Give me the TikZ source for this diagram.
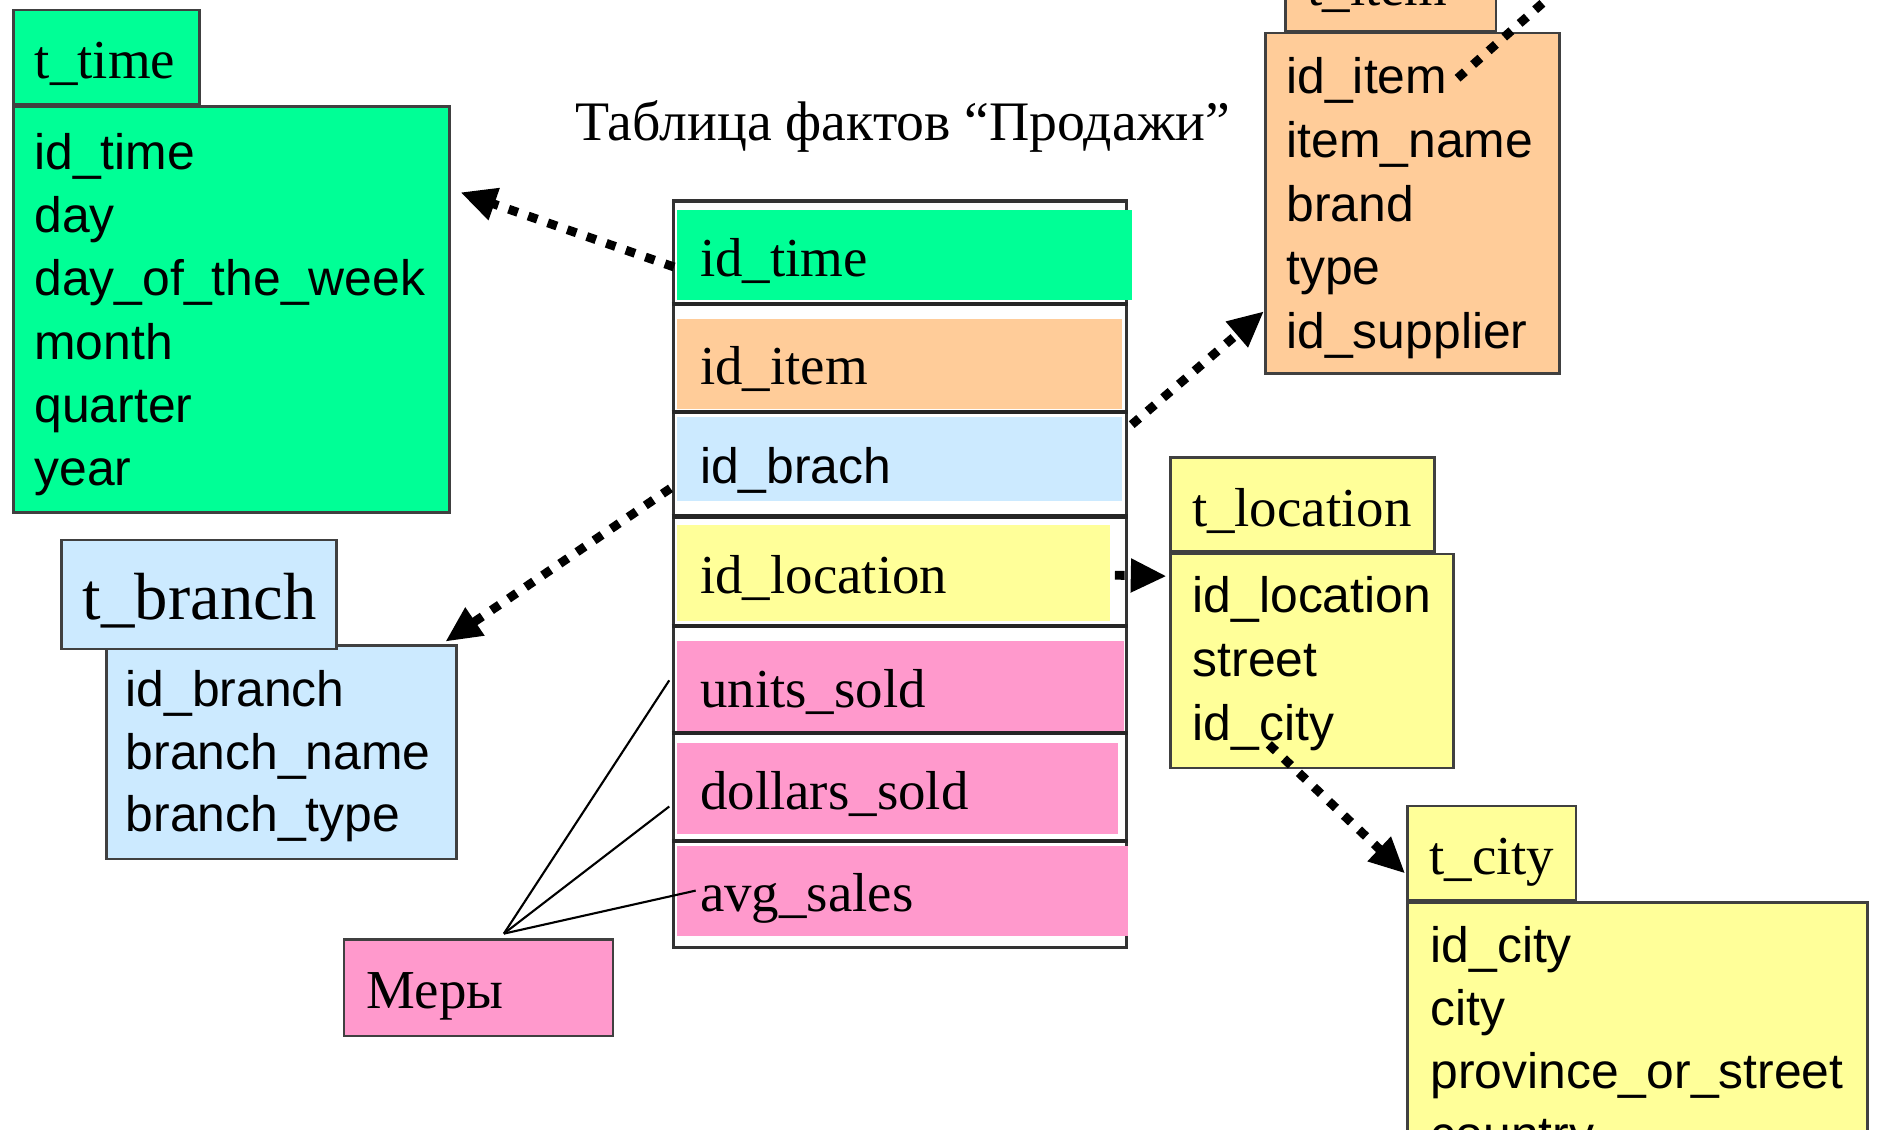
\documentclass[tikz,border=0pt]{standalone}
\usepackage{fontspec}
\setmainfont{Liberation Serif}
\setsansfont{Liberation Sans}
\usetikzlibrary{arrows.meta,calc}

\definecolor{timeclr}{RGB}{0,255,150}
\definecolor{itemclr}{RGB}{255,204,153}
\definecolor{branchclr}{RGB}{204,234,255}
\definecolor{locclr}{RGB}{255,255,153}
\definecolor{measclr}{RGB}{255,153,204}

\tikzset{
  box/.style={draw=black!75, line width=0.6pt, inner sep=0pt},
  head/.style={box, anchor=south west, inner xsep=0.18cm, align=left,
    text height=0.57cm, text depth=0.21cm, font=\fontsize{13}{15}\selectfont},
  body/.style={box, anchor=north west},
  fld/.style={anchor=base west, inner sep=0pt, font=\sffamily\fontsize{11.8}{14}\selectfont},
  row/.style={anchor=north west, inner ysep=0pt, inner xsep=0.19cm, align=left,
    text height=0.55cm, text depth=0.2cm, font=\fontsize{13}{15}\selectfont},
  sep/.style={line width=1.1pt, black!85},
  fkline/.style={line width=2.1pt, dash pattern=on 2.3pt off 2.6pt},
  fk/.style={fkline, -{Triangle[length=8.5pt,width=7.5pt]}},
  meas/.style={line width=0.5pt}
}

\begin{document}
\begin{tikzpicture}
\useasboundingbox (0,0) rectangle (15.68,-9.40);
\clip (0,0) rectangle (15.68,-9.40);

% t_time
\node[body, fill=timeclr, minimum width=3.63cm, minimum height=3.38cm] (tTimeB) at (0.10,-0.875) {};
\node[head, fill=timeclr, text width=1.19cm] (tTimeH) at (0.10,-0.875) {t\_time};
\foreach \f [count=\i] in {id\_time,day,day\_of\_the\_week,month,quarter,year}
  \node[fld] (time-\i) at (0.28,{-1.41-0.526*(\i-1)}) {\f};

% t_item
\node[body, fill=itemclr, minimum width=2.45cm, minimum height=2.835cm] (tItemB) at (10.52,-0.265) {};
\node[head, fill=itemclr, text width=1.39cm] (tItemH) at (10.69,-0.27) {t\_item};
\foreach \f [count=\i] in {id\_item,item\_name,brand,type,id\_supplier}
  \node[fld] (item-\i) at (10.70,{-0.78-0.53*(\i-1)}) {\f};

% t_branch
\node[body, fill=branchclr, minimum width=2.915cm, minimum height=1.78cm] (tBranchB) at (0.875,-5.36) {};
\node[head, fill=branchclr, text width=1.93cm, text height=0.665cm, text depth=0.24cm,
  font=\fontsize{15.8}{18}\selectfont] (tBranchH) at (0.50,-5.41) {t\_branch};
\foreach \f [count=\i] in {id\_branch,branch\_name,branch\_type}
  \node[fld] (branch-\i) at (1.04,{-5.88-0.52*(\i-1)}) {\f};

% t_location
\node[body, fill=locclr, minimum width=2.355cm, minimum height=1.78cm] (tLocB) at (9.73,-4.60) {};
\node[head, fill=locclr, text width=1.84cm] (tLocH) at (9.73,-4.60) {t\_location};
\foreach \f [count=\i] in {id\_location,street,id\_city}
  \node[fld] (loc-\i) at (9.92,{-5.10-0.53*(\i-1)}) {\f};

% t_city
\node[body, fill=locclr, minimum width=3.825cm, minimum height=3.0cm] (tCityB) at (11.705,-7.50) {};
\node[head, fill=locclr, text width=1.04cm] (tCityH) at (11.705,-7.50) {t\_city};
\foreach \f [count=\i] in {id\_city,city,province\_or\_street,country}
  \node[fld] (city-\i) at (11.90,{-8.01-0.525*(\i-1)}) {\f};

% fact table
\node[anchor=base west, inner sep=0pt, font=\fontsize{13.2}{15}\selectfont] (title) at (4.78,-1.17)
  {Таблица фактов “Продажи”};
\node[body, fill=white, draw=black!80, line width=0.8pt, minimum width=3.77cm, minimum height=6.21cm] (fact) at (5.59,-1.66) {};
\node[row, fill=timeclr, text width=3.40cm] (fTime) at (5.63,-1.74) {id\_time};
\node[row, fill=itemclr, text width=3.32cm] (fItem) at (5.63,-2.645) {id\_item};
\node[row, fill=branchclr, text width=3.32cm, text height=0.56cm, text depth=0.14cm,
  font=\sffamily\fontsize{11.8}{14}\selectfont] (fBranch) at (5.63,-3.46) {id\_brach};
\node[row, fill=locclr, text width=3.22cm, text height=0.57cm, text depth=0.23cm] (fLoc) at (5.63,-4.36) {id\_location};
\node[row, fill=measclr, text width=3.34cm] (fUnits) at (5.63,-5.33) {units\_sold};
\node[row, fill=measclr, text width=3.29cm] (fDollars) at (5.63,-6.18) {dollars\_sold};
\node[row, fill=measclr, text width=3.37cm] (fAvg) at (5.63,-7.03) {avg\_sales};
\foreach \y in {2.53,3.43,4.30,5.21,6.10,7.00}
  \draw[sep] (fact.west |- 0,-\y) -- (fact.east |- 0,-\y);

% measures
\node[box, fill=measclr, anchor=north west, inner xsep=0.19cm, align=left, text width=1.86cm,
  text height=0.57cm, text depth=0.23cm, font=\fontsize{13}{15}\selectfont] (mery) at (2.853,-7.81) {Меры};
\coordinate (mj) at ($(mery.north)+(0.21,0.04)$);
\draw[meas] (mj) -- ($(fUnits.west)+(-0.06,0.05)$);
\draw[meas] (mj) -- ($(fDollars.west)+(-0.06,-0.15)$);
\draw[meas] (mj) -- ($(fAvg.west)+(0.16,0)$);

% links
\draw[fk] ($(fTime.west)+(-0.02,-0.10)$) -- ($(tTimeB.north east)+(0.08,-0.725)$);
\draw[fk] ($(fBranch.south west)+(-0.05,0.11)$) -- ($(tBranchB.north east)+(-0.105,0.02)$);
\draw[fk] ($(fItem.south east)+(0.075,-0.125)$) -- ($(tItemB.north west)+(0,-2.325)$);
\draw[fk] ($(fLoc.east)+(0.035,-0.02)$) -- ($(tLocB.north west)+(-0.02,-0.195)$);
\draw[fk] ($(loc-3.base west)+(0.64,-0.035)$) -- ($(tCityH.south west)+(-0.01,0.23)$);
\coordinate (itemUp) at (13.40,0.47);
\draw[fkline] ($(item-1.east)+(0.08,0.02)$) -- (itemUp);
\end{tikzpicture}
\end{document}
